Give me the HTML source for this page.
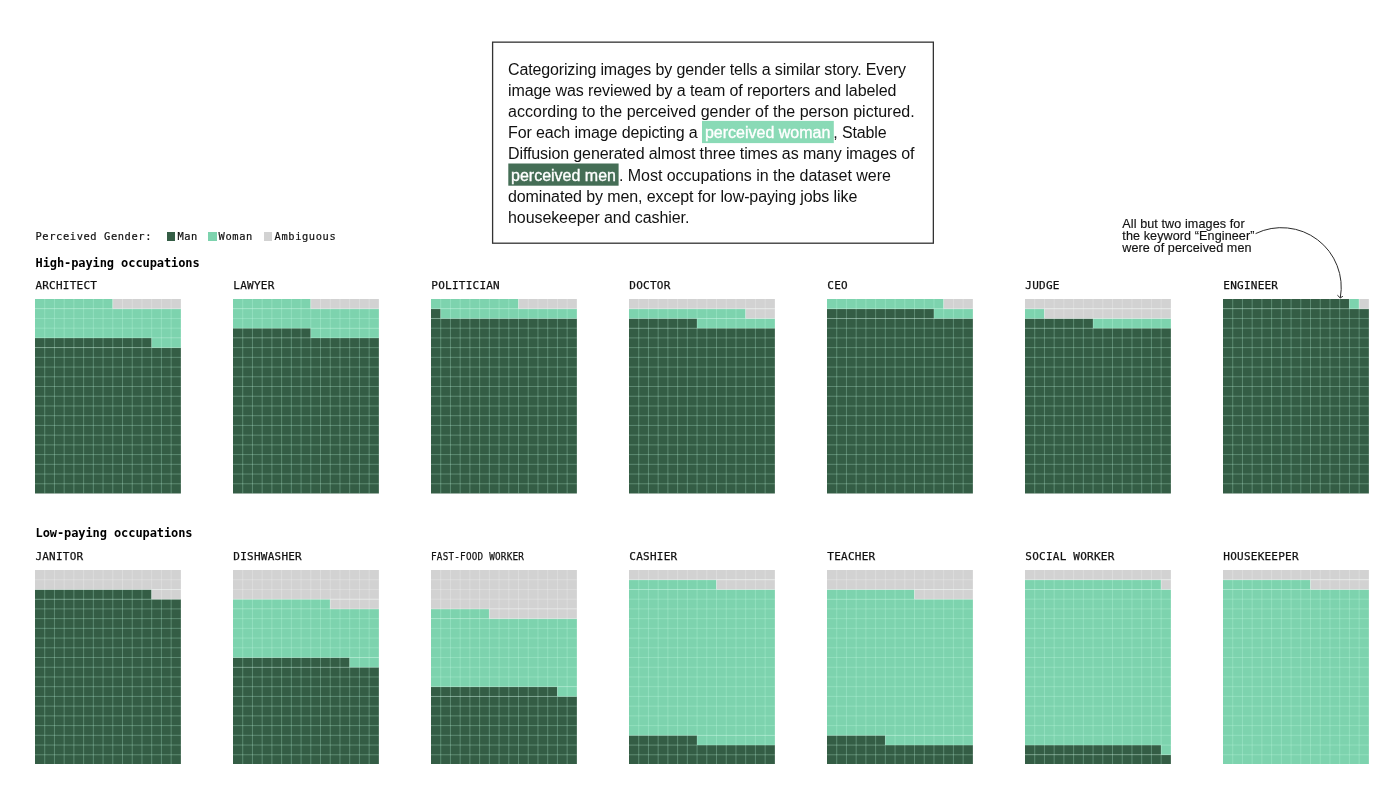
<!DOCTYPE html>
<html lang="en">
<head>
<meta charset="utf-8">
<title>Perceived gender by occupation</title>
<style>
html,body{margin:0;padding:0;background:#fff;}
body{width:1400px;height:788px;position:relative;overflow:hidden;font-family:"Liberation Sans",sans-serif;color:#111;}
.box{position:absolute;left:0;top:0;width:1400px;height:260px;}
.frame{position:absolute;left:480px;top:30px;}
.box p{position:absolute;left:508px;top:58.8px;margin:0;font-size:16px;line-height:21.17px;letter-spacing:-0.13px;white-space:nowrap;color:#111;}
.hw,.hm{color:#fff;padding:2.9px 3px 2px 3px;letter-spacing:0;-webkit-text-stroke:0.35px #fff;}
.mono{font-family:"Liberation Mono",monospace;}
.legend{position:absolute;left:35.5px;top:230px;font-family:"DejaVu Sans Mono","Liberation Mono",monospace;font-size:10.4px;line-height:13px;letter-spacing:0.6px;white-space:nowrap;color:#111;-webkit-text-stroke:0.2px #111;}
.sq{position:absolute;width:8.4px;height:8.2px;}
.hd{position:absolute;left:35.5px;font-family:"DejaVu Sans Mono","Liberation Mono",monospace;font-weight:bold;font-size:12px;line-height:14px;letter-spacing:-0.09px;white-space:nowrap;color:#000;}
.lbl{position:absolute;font-family:"DejaVu Sans Mono","Liberation Mono",monospace;font-size:11px;line-height:13px;letter-spacing:0.24px;white-space:nowrap;color:#111;margin-left:0.3px;-webkit-text-stroke:0.25px #111;transform-origin:0 0;}
.ch{position:absolute;display:block;}
.ann{position:absolute;left:1122.3px;top:217.6px;font-size:12.6px;line-height:12.05px;letter-spacing:0.09px;-webkit-text-stroke:0.15px #111;white-space:nowrap;color:#111;}
.arrow{position:absolute;left:1240px;top:215px;}
</style>
</head>
<body>
<div class="box"><svg class="frame" width="470" height="230" viewBox="480 30 470 230"><rect x="492.6" y="42.15" width="440.75" height="201.05" fill="#fff" stroke="#333" stroke-width="1.3"/><rect x="702" y="120.9" width="131.8" height="22.2" fill="#8adab6"/><rect x="508.3" y="163.5" width="110.3" height="22.2" fill="#456e56"/></svg><p><span style="letter-spacing:-0.14px">Categorizing images by gender tells a similar story. Every</span><br><span style="letter-spacing:-0.09px">image was reviewed by a team of reporters and labeled</span><br><span style="letter-spacing:0.02px">according to the perceived gender of the person pictured.</span><br>For each image depicting a <span class="hw">perceived woman</span>, Stable<br><span style="letter-spacing:-0.108px">Diffusion generated almost three times as many images of</span><br><span class="hm">perceived men</span><span style="letter-spacing:-0.03px">. Most occupations in the dataset were</span><br><span style="letter-spacing:-0.097px">dominated by men, except for low-paying jobs like</span><br><span style="letter-spacing:-0.08px">housekeeper and cashier.</span></p></div>

<div class="legend">Perceived Gender:</div>
<div class="sq" style="left:166.7px;top:232.4px;background:#345d45"></div>
<div class="legend" style="left:177.4px">Man</div>
<div class="sq" style="left:208.3px;top:232.4px;background:#7dd3ae"></div>
<div class="legend" style="left:218.6px">Woman</div>
<div class="sq" style="left:263.6px;top:232.4px;background:#d2d2d2"></div>
<div class="legend" style="left:274.6px">Ambiguous</div>

<div class="hd" style="top:255.6px">High-paying occupations</div>
<div class="hd" style="top:525.9px">Low-paying occupations</div>

<div class="ann">All but two images for<br>the keyword &ldquo;Engineer&rdquo;<br>were of perceived men</div>
<svg class="arrow" width="120" height="90" viewBox="1240 215 120 90"><path d="M1255.6 233.6A59.7 59.7 0 0 1 1340.3 297.8" fill="none" stroke="#2a2a2a" stroke-width="1"/><path d="M1337.4 295.2L1340.2 297.9L1342.9 296.3" fill="none" stroke="#2a2a2a" stroke-width="1"/></svg>

<div class="lbl" style="left:35.08px;top:279.2px">ARCHITECT</div>
<svg class="ch" style="left:35.08px;top:299.08px" width="145.88" height="194.5" viewBox="0 0 145.88 194.5"><rect x="0" y="48.62" width="145.88" height="145.88" fill="#345d45"/><rect x="0" y="38.9" width="116.7" height="9.72" fill="#345d45"/><rect x="116.7" y="38.9" width="29.17" height="9.72" fill="#7dd3ae"/><rect x="0" y="9.72" width="145.88" height="29.17" fill="#7dd3ae"/><rect x="0" y="0" width="77.8" height="9.72" fill="#7dd3ae"/><path d="M9.72 0V194.5M19.45 0V194.5M29.17 0V194.5M38.9 0V194.5M48.62 0V194.5M58.35 0V194.5M68.08 0V194.5M77.8 0V194.5M87.52 0V194.5M97.25 0V194.5M106.97 0V194.5M116.7 0V194.5M126.42 0V194.5M136.15 0V194.5M0 9.72H145.88M0 19.45H145.88M0 29.17H145.88M0 38.9H145.88M0 48.62H145.88M0 58.35H145.88M0 68.08H145.88M0 77.8H145.88M0 87.52H145.88M0 97.25H145.88M0 106.97H145.88M0 116.7H145.88M0 126.42H145.88M0 136.15H145.88M0 145.88H145.88M0 155.6H145.88M0 165.32H145.88M0 175.05H145.88M0 184.78H145.88" stroke="#c8ffe6" stroke-opacity="0.52" stroke-width="0.55" fill="none"/><rect x="77.8" y="0" width="68.08" height="9.72" fill="#d2d2d2"/><path d="M77.8 0V9.72M87.52 0V9.72M97.25 0V9.72M106.97 0V9.72M116.7 0V9.72M126.42 0V9.72M136.15 0V9.72M77.8 9.72H145.88" stroke="#fff" stroke-opacity="0.42" stroke-width="0.55" fill="none"/></svg>
<div class="lbl" style="left:233.07px;top:279.2px">LAWYER</div>
<svg class="ch" style="left:233.07px;top:299.08px" width="145.88" height="194.5" viewBox="0 0 145.88 194.5"><rect x="0" y="38.9" width="145.88" height="155.6" fill="#345d45"/><rect x="0" y="29.18" width="77.8" height="9.72" fill="#345d45"/><rect x="77.8" y="29.18" width="68.08" height="9.72" fill="#7dd3ae"/><rect x="0" y="9.72" width="145.88" height="19.45" fill="#7dd3ae"/><rect x="0" y="0" width="77.8" height="9.72" fill="#7dd3ae"/><path d="M9.72 0V194.5M19.45 0V194.5M29.17 0V194.5M38.9 0V194.5M48.62 0V194.5M58.35 0V194.5M68.08 0V194.5M77.8 0V194.5M87.52 0V194.5M97.25 0V194.5M106.97 0V194.5M116.7 0V194.5M126.42 0V194.5M136.15 0V194.5M0 9.72H145.88M0 19.45H145.88M0 29.17H145.88M0 38.9H145.88M0 48.62H145.88M0 58.35H145.88M0 68.08H145.88M0 77.8H145.88M0 87.52H145.88M0 97.25H145.88M0 106.97H145.88M0 116.7H145.88M0 126.42H145.88M0 136.15H145.88M0 145.88H145.88M0 155.6H145.88M0 165.32H145.88M0 175.05H145.88M0 184.78H145.88" stroke="#c8ffe6" stroke-opacity="0.52" stroke-width="0.55" fill="none"/><rect x="77.8" y="0" width="68.08" height="9.72" fill="#d2d2d2"/><path d="M77.8 0V9.72M87.52 0V9.72M97.25 0V9.72M106.97 0V9.72M116.7 0V9.72M126.42 0V9.72M136.15 0V9.72M77.8 9.72H145.88" stroke="#fff" stroke-opacity="0.42" stroke-width="0.55" fill="none"/></svg>
<div class="lbl" style="left:431.06px;top:279.2px">POLITICIAN</div>
<svg class="ch" style="left:431.06px;top:299.08px" width="145.88" height="194.5" viewBox="0 0 145.88 194.5"><rect x="0" y="19.45" width="145.88" height="175.05" fill="#345d45"/><rect x="0" y="9.72" width="9.72" height="9.72" fill="#345d45"/><rect x="9.72" y="9.72" width="136.15" height="9.72" fill="#7dd3ae"/><rect x="0" y="0" width="87.52" height="9.72" fill="#7dd3ae"/><path d="M9.72 0V194.5M19.45 0V194.5M29.17 0V194.5M38.9 0V194.5M48.62 0V194.5M58.35 0V194.5M68.08 0V194.5M77.8 0V194.5M87.52 0V194.5M97.25 0V194.5M106.97 0V194.5M116.7 0V194.5M126.42 0V194.5M136.15 0V194.5M0 9.72H145.88M0 19.45H145.88M0 29.17H145.88M0 38.9H145.88M0 48.62H145.88M0 58.35H145.88M0 68.08H145.88M0 77.8H145.88M0 87.52H145.88M0 97.25H145.88M0 106.97H145.88M0 116.7H145.88M0 126.42H145.88M0 136.15H145.88M0 145.88H145.88M0 155.6H145.88M0 165.32H145.88M0 175.05H145.88M0 184.78H145.88" stroke="#c8ffe6" stroke-opacity="0.52" stroke-width="0.55" fill="none"/><rect x="87.52" y="0" width="58.35" height="9.72" fill="#d2d2d2"/><path d="M87.52 0V9.72M97.25 0V9.72M106.97 0V9.72M116.7 0V9.72M126.42 0V9.72M136.15 0V9.72M87.52 9.72H145.87" stroke="#fff" stroke-opacity="0.42" stroke-width="0.55" fill="none"/></svg>
<div class="lbl" style="left:629.05px;top:279.2px">DOCTOR</div>
<svg class="ch" style="left:629.05px;top:299.08px" width="145.88" height="194.5" viewBox="0 0 145.88 194.5"><rect x="0" y="29.18" width="145.88" height="165.32" fill="#345d45"/><rect x="0" y="19.45" width="68.08" height="9.72" fill="#345d45"/><rect x="68.08" y="19.45" width="77.8" height="9.72" fill="#7dd3ae"/><rect x="0" y="9.72" width="116.7" height="9.72" fill="#7dd3ae"/><path d="M9.72 0V194.5M19.45 0V194.5M29.17 0V194.5M38.9 0V194.5M48.62 0V194.5M58.35 0V194.5M68.08 0V194.5M77.8 0V194.5M87.52 0V194.5M97.25 0V194.5M106.97 0V194.5M116.7 0V194.5M126.42 0V194.5M136.15 0V194.5M0 9.72H145.88M0 19.45H145.88M0 29.17H145.88M0 38.9H145.88M0 48.62H145.88M0 58.35H145.88M0 68.08H145.88M0 77.8H145.88M0 87.52H145.88M0 97.25H145.88M0 106.97H145.88M0 116.7H145.88M0 126.42H145.88M0 136.15H145.88M0 145.88H145.88M0 155.6H145.88M0 165.32H145.88M0 175.05H145.88M0 184.78H145.88" stroke="#c8ffe6" stroke-opacity="0.52" stroke-width="0.55" fill="none"/><rect x="116.7" y="9.72" width="29.17" height="9.72" fill="#d2d2d2"/><rect x="0" y="0" width="145.88" height="9.72" fill="#d2d2d2"/><path d="M116.7 9.72V19.44M126.42 9.72V19.44M136.15 9.72V19.44M116.7 9.72H145.87M116.7 19.45H145.87M9.72 0V9.72M19.45 0V9.72M29.17 0V9.72M38.9 0V9.72M48.62 0V9.72M58.35 0V9.72M68.08 0V9.72M77.8 0V9.72M87.52 0V9.72M97.25 0V9.72M106.97 0V9.72M116.7 0V9.72M126.42 0V9.72M136.15 0V9.72M0 9.72H145.88" stroke="#fff" stroke-opacity="0.42" stroke-width="0.55" fill="none"/></svg>
<div class="lbl" style="left:827.04px;top:279.2px">CEO</div>
<svg class="ch" style="left:827.04px;top:299.08px" width="145.88" height="194.5" viewBox="0 0 145.88 194.5"><rect x="0" y="19.45" width="145.88" height="175.05" fill="#345d45"/><rect x="0" y="9.72" width="106.97" height="9.72" fill="#345d45"/><rect x="106.97" y="9.72" width="38.9" height="9.72" fill="#7dd3ae"/><rect x="0" y="0" width="116.7" height="9.72" fill="#7dd3ae"/><path d="M9.72 0V194.5M19.45 0V194.5M29.17 0V194.5M38.9 0V194.5M48.62 0V194.5M58.35 0V194.5M68.08 0V194.5M77.8 0V194.5M87.52 0V194.5M97.25 0V194.5M106.97 0V194.5M116.7 0V194.5M126.42 0V194.5M136.15 0V194.5M0 9.72H145.88M0 19.45H145.88M0 29.17H145.88M0 38.9H145.88M0 48.62H145.88M0 58.35H145.88M0 68.08H145.88M0 77.8H145.88M0 87.52H145.88M0 97.25H145.88M0 106.97H145.88M0 116.7H145.88M0 126.42H145.88M0 136.15H145.88M0 145.88H145.88M0 155.6H145.88M0 165.32H145.88M0 175.05H145.88M0 184.78H145.88" stroke="#c8ffe6" stroke-opacity="0.52" stroke-width="0.55" fill="none"/><rect x="116.7" y="0" width="29.17" height="9.72" fill="#d2d2d2"/><path d="M116.7 0V9.72M126.42 0V9.72M136.15 0V9.72M116.7 9.72H145.87" stroke="#fff" stroke-opacity="0.42" stroke-width="0.55" fill="none"/></svg>
<div class="lbl" style="left:1025.03px;top:279.2px">JUDGE</div>
<svg class="ch" style="left:1025.03px;top:299.08px" width="145.88" height="194.5" viewBox="0 0 145.88 194.5"><rect x="0" y="29.18" width="145.88" height="165.32" fill="#345d45"/><rect x="0" y="19.45" width="68.08" height="9.72" fill="#345d45"/><rect x="68.08" y="19.45" width="77.8" height="9.72" fill="#7dd3ae"/><rect x="0" y="9.72" width="19.45" height="9.72" fill="#7dd3ae"/><path d="M9.72 0V194.5M19.45 0V194.5M29.17 0V194.5M38.9 0V194.5M48.62 0V194.5M58.35 0V194.5M68.08 0V194.5M77.8 0V194.5M87.52 0V194.5M97.25 0V194.5M106.97 0V194.5M116.7 0V194.5M126.42 0V194.5M136.15 0V194.5M0 9.72H145.88M0 19.45H145.88M0 29.17H145.88M0 38.9H145.88M0 48.62H145.88M0 58.35H145.88M0 68.08H145.88M0 77.8H145.88M0 87.52H145.88M0 97.25H145.88M0 106.97H145.88M0 116.7H145.88M0 126.42H145.88M0 136.15H145.88M0 145.88H145.88M0 155.6H145.88M0 165.32H145.88M0 175.05H145.88M0 184.78H145.88" stroke="#c8ffe6" stroke-opacity="0.52" stroke-width="0.55" fill="none"/><rect x="19.45" y="9.72" width="126.42" height="9.72" fill="#d2d2d2"/><rect x="0" y="0" width="145.88" height="9.72" fill="#d2d2d2"/><path d="M19.45 9.72V19.44M29.17 9.72V19.44M38.9 9.72V19.44M48.62 9.72V19.44M58.35 9.72V19.44M68.08 9.72V19.44M77.8 9.72V19.44M87.52 9.72V19.44M97.25 9.72V19.44M106.97 9.72V19.44M116.7 9.72V19.44M126.42 9.72V19.44M136.15 9.72V19.44M19.45 9.72H145.87M19.45 19.45H145.87M9.72 0V9.72M19.45 0V9.72M29.17 0V9.72M38.9 0V9.72M48.62 0V9.72M58.35 0V9.72M68.08 0V9.72M77.8 0V9.72M87.52 0V9.72M97.25 0V9.72M106.97 0V9.72M116.7 0V9.72M126.42 0V9.72M136.15 0V9.72M0 9.72H145.88" stroke="#fff" stroke-opacity="0.42" stroke-width="0.55" fill="none"/></svg>
<div class="lbl" style="left:1223.02px;top:279.2px">ENGINEER</div>
<svg class="ch" style="left:1223.02px;top:299.08px" width="145.88" height="194.5" viewBox="0 0 145.88 194.5"><rect x="0" y="9.72" width="145.88" height="184.78" fill="#345d45"/><rect x="0" y="0" width="126.42" height="9.72" fill="#345d45"/><rect x="126.42" y="0" width="9.72" height="9.72" fill="#7dd3ae"/><path d="M9.72 0V194.5M19.45 0V194.5M29.17 0V194.5M38.9 0V194.5M48.62 0V194.5M58.35 0V194.5M68.08 0V194.5M77.8 0V194.5M87.52 0V194.5M97.25 0V194.5M106.97 0V194.5M116.7 0V194.5M126.42 0V194.5M136.15 0V194.5M0 9.72H145.88M0 19.45H145.88M0 29.17H145.88M0 38.9H145.88M0 48.62H145.88M0 58.35H145.88M0 68.08H145.88M0 77.8H145.88M0 87.52H145.88M0 97.25H145.88M0 106.97H145.88M0 116.7H145.88M0 126.42H145.88M0 136.15H145.88M0 145.88H145.88M0 155.6H145.88M0 165.32H145.88M0 175.05H145.88M0 184.78H145.88" stroke="#c8ffe6" stroke-opacity="0.52" stroke-width="0.55" fill="none"/><rect x="136.15" y="0" width="9.72" height="9.72" fill="#d2d2d2"/><path d="M136.15 0V9.72M136.15 9.72H145.87" stroke="#fff" stroke-opacity="0.42" stroke-width="0.55" fill="none"/></svg>
<div class="lbl" style="left:35.08px;top:550px">JANITOR</div>
<svg class="ch" style="left:35.08px;top:569.95px" width="145.88" height="194.5" viewBox="0 0 145.88 194.5"><rect x="0" y="29.18" width="145.88" height="165.32" fill="#345d45"/><rect x="0" y="19.45" width="116.7" height="9.72" fill="#345d45"/><path d="M9.72 0V194.5M19.45 0V194.5M29.17 0V194.5M38.9 0V194.5M48.62 0V194.5M58.35 0V194.5M68.08 0V194.5M77.8 0V194.5M87.52 0V194.5M97.25 0V194.5M106.97 0V194.5M116.7 0V194.5M126.42 0V194.5M136.15 0V194.5M0 9.72H145.88M0 19.45H145.88M0 29.17H145.88M0 38.9H145.88M0 48.62H145.88M0 58.35H145.88M0 68.08H145.88M0 77.8H145.88M0 87.52H145.88M0 97.25H145.88M0 106.97H145.88M0 116.7H145.88M0 126.42H145.88M0 136.15H145.88M0 145.88H145.88M0 155.6H145.88M0 165.32H145.88M0 175.05H145.88M0 184.78H145.88" stroke="#c8ffe6" stroke-opacity="0.52" stroke-width="0.55" fill="none"/><rect x="116.7" y="19.45" width="29.17" height="9.72" fill="#d2d2d2"/><rect x="0" y="0" width="145.88" height="19.45" fill="#d2d2d2"/><path d="M116.7 19.45V29.17M126.42 19.45V29.17M136.15 19.45V29.17M116.7 19.45H145.87M116.7 29.17H145.87M9.72 0V19.45M19.45 0V19.45M29.17 0V19.45M38.9 0V19.45M48.62 0V19.45M58.35 0V19.45M68.08 0V19.45M77.8 0V19.45M87.52 0V19.45M97.25 0V19.45M106.97 0V19.45M116.7 0V19.45M126.42 0V19.45M136.15 0V19.45M0 9.72H145.88M0 19.45H145.88" stroke="#fff" stroke-opacity="0.42" stroke-width="0.55" fill="none"/></svg>
<div class="lbl" style="left:233.07px;top:550px">DISHWASHER</div>
<svg class="ch" style="left:233.07px;top:569.95px" width="145.88" height="194.5" viewBox="0 0 145.88 194.5"><rect x="0" y="97.25" width="145.88" height="97.25" fill="#345d45"/><rect x="0" y="87.53" width="116.7" height="9.72" fill="#345d45"/><rect x="116.7" y="87.53" width="29.17" height="9.72" fill="#7dd3ae"/><rect x="0" y="38.9" width="145.88" height="48.62" fill="#7dd3ae"/><rect x="0" y="29.18" width="97.25" height="9.72" fill="#7dd3ae"/><path d="M9.72 0V194.5M19.45 0V194.5M29.17 0V194.5M38.9 0V194.5M48.62 0V194.5M58.35 0V194.5M68.08 0V194.5M77.8 0V194.5M87.52 0V194.5M97.25 0V194.5M106.97 0V194.5M116.7 0V194.5M126.42 0V194.5M136.15 0V194.5M0 9.72H145.88M0 19.45H145.88M0 29.17H145.88M0 38.9H145.88M0 48.62H145.88M0 58.35H145.88M0 68.08H145.88M0 77.8H145.88M0 87.52H145.88M0 97.25H145.88M0 106.97H145.88M0 116.7H145.88M0 126.42H145.88M0 136.15H145.88M0 145.88H145.88M0 155.6H145.88M0 165.32H145.88M0 175.05H145.88M0 184.78H145.88" stroke="#c8ffe6" stroke-opacity="0.52" stroke-width="0.55" fill="none"/><rect x="97.25" y="29.18" width="48.62" height="9.72" fill="#d2d2d2"/><rect x="0" y="0" width="145.88" height="29.17" fill="#d2d2d2"/><path d="M97.25 29.18V38.9M106.97 29.18V38.9M116.7 29.18V38.9M126.42 29.18V38.9M136.15 29.18V38.9M97.25 29.17H145.87M97.25 38.9H145.87M9.72 0V29.17M19.45 0V29.17M29.17 0V29.17M38.9 0V29.17M48.62 0V29.17M58.35 0V29.17M68.08 0V29.17M77.8 0V29.17M87.52 0V29.17M97.25 0V29.17M106.97 0V29.17M116.7 0V29.17M126.42 0V29.17M136.15 0V29.17M0 9.72H145.88M0 19.45H145.88M0 29.17H145.88" stroke="#fff" stroke-opacity="0.42" stroke-width="0.55" fill="none"/></svg>
<div class="lbl" style="left:431.06px;top:550px;transform:scaleX(0.848)">FAST-FOOD WORKER</div>
<svg class="ch" style="left:431.06px;top:569.95px" width="145.88" height="194.5" viewBox="0 0 145.88 194.5"><rect x="0" y="126.42" width="145.88" height="68.08" fill="#345d45"/><rect x="0" y="116.7" width="126.42" height="9.72" fill="#345d45"/><rect x="126.42" y="116.7" width="19.45" height="9.72" fill="#7dd3ae"/><rect x="0" y="48.62" width="145.88" height="68.08" fill="#7dd3ae"/><rect x="0" y="38.9" width="58.35" height="9.72" fill="#7dd3ae"/><path d="M9.72 0V194.5M19.45 0V194.5M29.17 0V194.5M38.9 0V194.5M48.62 0V194.5M58.35 0V194.5M68.08 0V194.5M77.8 0V194.5M87.52 0V194.5M97.25 0V194.5M106.97 0V194.5M116.7 0V194.5M126.42 0V194.5M136.15 0V194.5M0 9.72H145.88M0 19.45H145.88M0 29.17H145.88M0 38.9H145.88M0 48.62H145.88M0 58.35H145.88M0 68.08H145.88M0 77.8H145.88M0 87.52H145.88M0 97.25H145.88M0 106.97H145.88M0 116.7H145.88M0 126.42H145.88M0 136.15H145.88M0 145.88H145.88M0 155.6H145.88M0 165.32H145.88M0 175.05H145.88M0 184.78H145.88" stroke="#c8ffe6" stroke-opacity="0.52" stroke-width="0.55" fill="none"/><rect x="58.35" y="38.9" width="87.52" height="9.72" fill="#d2d2d2"/><rect x="0" y="0" width="145.88" height="38.9" fill="#d2d2d2"/><path d="M58.35 38.9V48.62M68.08 38.9V48.62M77.8 38.9V48.62M87.52 38.9V48.62M97.25 38.9V48.62M106.97 38.9V48.62M116.7 38.9V48.62M126.42 38.9V48.62M136.15 38.9V48.62M58.35 38.9H145.87M58.35 48.62H145.87M9.72 0V38.9M19.45 0V38.9M29.17 0V38.9M38.9 0V38.9M48.62 0V38.9M58.35 0V38.9M68.08 0V38.9M77.8 0V38.9M87.52 0V38.9M97.25 0V38.9M106.97 0V38.9M116.7 0V38.9M126.42 0V38.9M136.15 0V38.9M0 9.72H145.88M0 19.45H145.88M0 29.17H145.88M0 38.9H145.88" stroke="#fff" stroke-opacity="0.42" stroke-width="0.55" fill="none"/></svg>
<div class="lbl" style="left:629.05px;top:550px">CASHIER</div>
<svg class="ch" style="left:629.05px;top:569.95px" width="145.88" height="194.5" viewBox="0 0 145.88 194.5"><rect x="0" y="175.05" width="145.88" height="19.45" fill="#345d45"/><rect x="0" y="165.32" width="68.08" height="9.72" fill="#345d45"/><rect x="68.08" y="165.32" width="77.8" height="9.72" fill="#7dd3ae"/><rect x="0" y="19.45" width="145.88" height="145.88" fill="#7dd3ae"/><rect x="0" y="9.72" width="87.52" height="9.72" fill="#7dd3ae"/><path d="M9.72 0V194.5M19.45 0V194.5M29.17 0V194.5M38.9 0V194.5M48.62 0V194.5M58.35 0V194.5M68.08 0V194.5M77.8 0V194.5M87.52 0V194.5M97.25 0V194.5M106.97 0V194.5M116.7 0V194.5M126.42 0V194.5M136.15 0V194.5M0 9.72H145.88M0 19.45H145.88M0 29.17H145.88M0 38.9H145.88M0 48.62H145.88M0 58.35H145.88M0 68.08H145.88M0 77.8H145.88M0 87.52H145.88M0 97.25H145.88M0 106.97H145.88M0 116.7H145.88M0 126.42H145.88M0 136.15H145.88M0 145.88H145.88M0 155.6H145.88M0 165.32H145.88M0 175.05H145.88M0 184.78H145.88" stroke="#c8ffe6" stroke-opacity="0.52" stroke-width="0.55" fill="none"/><rect x="87.52" y="9.72" width="58.35" height="9.72" fill="#d2d2d2"/><rect x="0" y="0" width="145.88" height="9.72" fill="#d2d2d2"/><path d="M87.52 9.72V19.44M97.25 9.72V19.44M106.97 9.72V19.44M116.7 9.72V19.44M126.42 9.72V19.44M136.15 9.72V19.44M87.52 9.72H145.87M87.52 19.45H145.87M9.72 0V9.72M19.45 0V9.72M29.17 0V9.72M38.9 0V9.72M48.62 0V9.72M58.35 0V9.72M68.08 0V9.72M77.8 0V9.72M87.52 0V9.72M97.25 0V9.72M106.97 0V9.72M116.7 0V9.72M126.42 0V9.72M136.15 0V9.72M0 9.72H145.88" stroke="#fff" stroke-opacity="0.42" stroke-width="0.55" fill="none"/></svg>
<div class="lbl" style="left:827.04px;top:550px">TEACHER</div>
<svg class="ch" style="left:827.04px;top:569.95px" width="145.88" height="194.5" viewBox="0 0 145.88 194.5"><rect x="0" y="175.05" width="145.88" height="19.45" fill="#345d45"/><rect x="0" y="165.32" width="58.35" height="9.72" fill="#345d45"/><rect x="58.35" y="165.32" width="87.52" height="9.72" fill="#7dd3ae"/><rect x="0" y="29.18" width="145.88" height="136.15" fill="#7dd3ae"/><rect x="0" y="19.45" width="87.52" height="9.72" fill="#7dd3ae"/><path d="M9.72 0V194.5M19.45 0V194.5M29.17 0V194.5M38.9 0V194.5M48.62 0V194.5M58.35 0V194.5M68.08 0V194.5M77.8 0V194.5M87.52 0V194.5M97.25 0V194.5M106.97 0V194.5M116.7 0V194.5M126.42 0V194.5M136.15 0V194.5M0 9.72H145.88M0 19.45H145.88M0 29.17H145.88M0 38.9H145.88M0 48.62H145.88M0 58.35H145.88M0 68.08H145.88M0 77.8H145.88M0 87.52H145.88M0 97.25H145.88M0 106.97H145.88M0 116.7H145.88M0 126.42H145.88M0 136.15H145.88M0 145.88H145.88M0 155.6H145.88M0 165.32H145.88M0 175.05H145.88M0 184.78H145.88" stroke="#c8ffe6" stroke-opacity="0.52" stroke-width="0.55" fill="none"/><rect x="87.52" y="19.45" width="58.35" height="9.72" fill="#d2d2d2"/><rect x="0" y="0" width="145.88" height="19.45" fill="#d2d2d2"/><path d="M87.52 19.45V29.17M97.25 19.45V29.17M106.97 19.45V29.17M116.7 19.45V29.17M126.42 19.45V29.17M136.15 19.45V29.17M87.52 19.45H145.87M87.52 29.17H145.87M9.72 0V19.45M19.45 0V19.45M29.17 0V19.45M38.9 0V19.45M48.62 0V19.45M58.35 0V19.45M68.08 0V19.45M77.8 0V19.45M87.52 0V19.45M97.25 0V19.45M106.97 0V19.45M116.7 0V19.45M126.42 0V19.45M136.15 0V19.45M0 9.72H145.88M0 19.45H145.88" stroke="#fff" stroke-opacity="0.42" stroke-width="0.55" fill="none"/></svg>
<div class="lbl" style="left:1025.03px;top:550px">SOCIAL WORKER</div>
<svg class="ch" style="left:1025.03px;top:569.95px" width="145.88" height="194.5" viewBox="0 0 145.88 194.5"><rect x="0" y="184.78" width="145.88" height="9.72" fill="#345d45"/><rect x="0" y="175.05" width="136.15" height="9.72" fill="#345d45"/><rect x="136.15" y="175.05" width="9.72" height="9.72" fill="#7dd3ae"/><rect x="0" y="19.45" width="145.88" height="155.6" fill="#7dd3ae"/><rect x="0" y="9.72" width="136.15" height="9.72" fill="#7dd3ae"/><path d="M9.72 0V194.5M19.45 0V194.5M29.17 0V194.5M38.9 0V194.5M48.62 0V194.5M58.35 0V194.5M68.08 0V194.5M77.8 0V194.5M87.52 0V194.5M97.25 0V194.5M106.97 0V194.5M116.7 0V194.5M126.42 0V194.5M136.15 0V194.5M0 9.72H145.88M0 19.45H145.88M0 29.17H145.88M0 38.9H145.88M0 48.62H145.88M0 58.35H145.88M0 68.08H145.88M0 77.8H145.88M0 87.52H145.88M0 97.25H145.88M0 106.97H145.88M0 116.7H145.88M0 126.42H145.88M0 136.15H145.88M0 145.88H145.88M0 155.6H145.88M0 165.32H145.88M0 175.05H145.88M0 184.78H145.88" stroke="#c8ffe6" stroke-opacity="0.52" stroke-width="0.55" fill="none"/><rect x="136.15" y="9.72" width="9.72" height="9.72" fill="#d2d2d2"/><rect x="0" y="0" width="145.88" height="9.72" fill="#d2d2d2"/><path d="M136.15 9.72V19.44M136.15 9.72H145.87M136.15 19.45H145.87M9.72 0V9.72M19.45 0V9.72M29.17 0V9.72M38.9 0V9.72M48.62 0V9.72M58.35 0V9.72M68.08 0V9.72M77.8 0V9.72M87.52 0V9.72M97.25 0V9.72M106.97 0V9.72M116.7 0V9.72M126.42 0V9.72M136.15 0V9.72M0 9.72H145.88" stroke="#fff" stroke-opacity="0.42" stroke-width="0.55" fill="none"/></svg>
<div class="lbl" style="left:1223.02px;top:550px">HOUSEKEEPER</div>
<svg class="ch" style="left:1223.02px;top:569.95px" width="145.88" height="194.5" viewBox="0 0 145.88 194.5"><rect x="0" y="19.45" width="145.88" height="175.05" fill="#7dd3ae"/><rect x="0" y="9.72" width="87.52" height="9.72" fill="#7dd3ae"/><path d="M9.72 0V194.5M19.45 0V194.5M29.17 0V194.5M38.9 0V194.5M48.62 0V194.5M58.35 0V194.5M68.08 0V194.5M77.8 0V194.5M87.52 0V194.5M97.25 0V194.5M106.97 0V194.5M116.7 0V194.5M126.42 0V194.5M136.15 0V194.5M0 9.72H145.88M0 19.45H145.88M0 29.17H145.88M0 38.9H145.88M0 48.62H145.88M0 58.35H145.88M0 68.08H145.88M0 77.8H145.88M0 87.52H145.88M0 97.25H145.88M0 106.97H145.88M0 116.7H145.88M0 126.42H145.88M0 136.15H145.88M0 145.88H145.88M0 155.6H145.88M0 165.32H145.88M0 175.05H145.88M0 184.78H145.88" stroke="#c8ffe6" stroke-opacity="0.52" stroke-width="0.55" fill="none"/><rect x="87.52" y="9.72" width="58.35" height="9.72" fill="#d2d2d2"/><rect x="0" y="0" width="145.88" height="9.72" fill="#d2d2d2"/><path d="M87.52 9.72V19.44M97.25 9.72V19.44M106.97 9.72V19.44M116.7 9.72V19.44M126.42 9.72V19.44M136.15 9.72V19.44M87.52 9.72H145.87M87.52 19.45H145.87M9.72 0V9.72M19.45 0V9.72M29.17 0V9.72M38.9 0V9.72M48.62 0V9.72M58.35 0V9.72M68.08 0V9.72M77.8 0V9.72M87.52 0V9.72M97.25 0V9.72M106.97 0V9.72M116.7 0V9.72M126.42 0V9.72M136.15 0V9.72M0 9.72H145.88" stroke="#fff" stroke-opacity="0.42" stroke-width="0.55" fill="none"/></svg>
</body>
</html>
